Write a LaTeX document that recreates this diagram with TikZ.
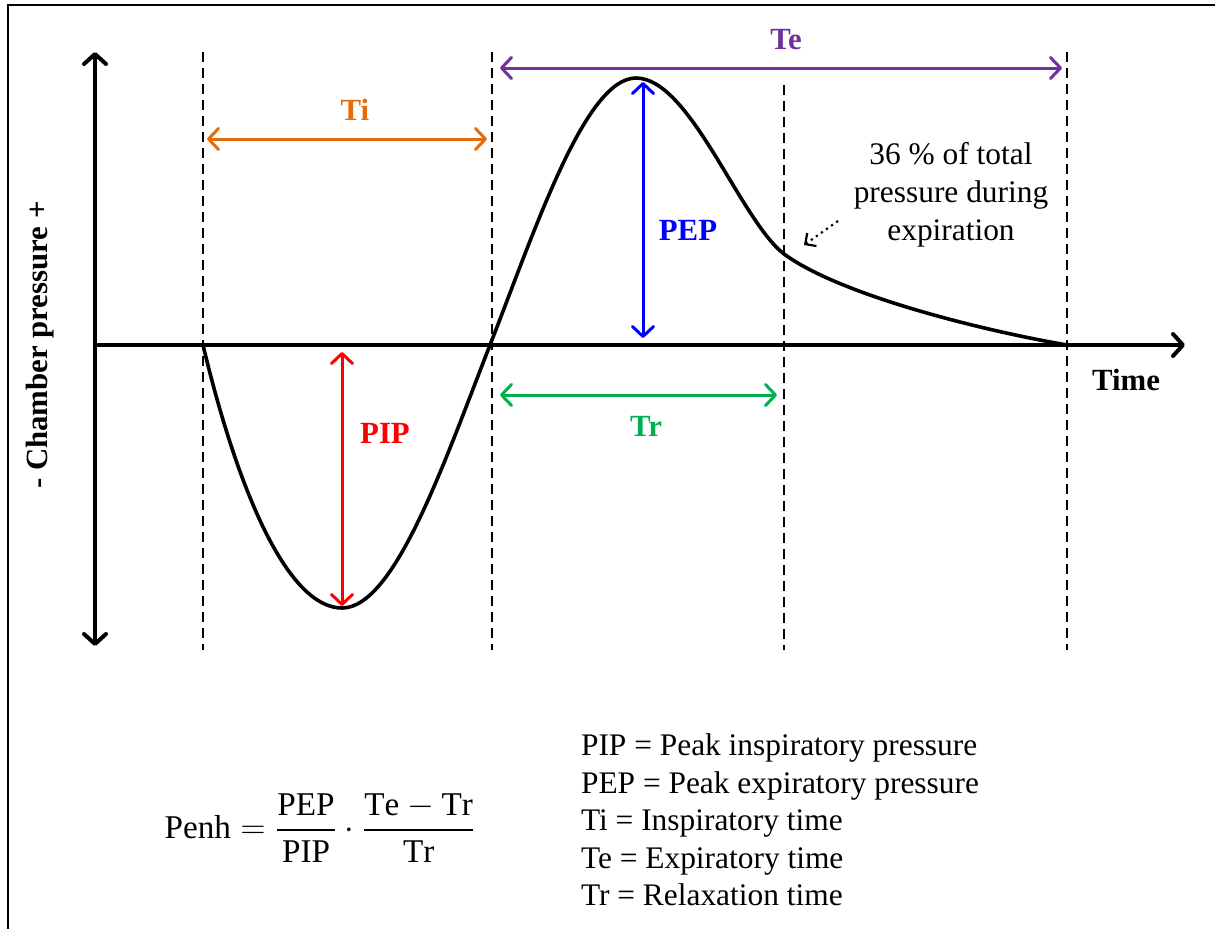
\documentclass[tikz,border=0pt]{standalone}
\usepackage{amsmath}
\usepackage{fontspec}
\setmainfont{Liberation Serif}
\usetikzlibrary{arrows.meta}

\definecolor{tiorange}{RGB}{228,108,10}
\definecolor{tepurple}{RGB}{112,48,160}
\definecolor{trgreen}{RGB}{0,176,80}

\begin{document}
\begin{tikzpicture}[
      x=0.5pt, y=-0.5pt,
      every node/.style={font=\fontsize{15.7}{19}\selectfont},
      bold/.style={font=\fontsize{15.4}{19}\selectfont\bfseries},
      bigbarb/.tip={Straight Barb[length=5pt, width=11pt, line cap=round, line join=round]},
      barb/.tip={Straight Barb[length=5pt, width=10.5pt, line cap=round, line join=round]},
      axis/.style={line width=2pt, line cap=round},
      span/.style={line width=1.5pt, barb-barb},
      guide/.style={line width=1pt, dash pattern=on 5pt off 3pt},
      wave/.style={line width=1.8pt, line join=round}
    ]
    \useasboundingbox (0,0) rectangle (1215,928);
    \clip (0,0) rectangle (1215,928);

    % frame, cut at right and bottom
    \draw[line width=1.2pt] (8,960) -- (8,5) -- (1240,5);

    % guides
    \foreach \x/\top in {203/52, 492/52, 784/85, 1067/52}{
      \draw[guide] (\x,\top) -- (\x,650);
    }

    % axes
    \coordinate (O) at (95,345);
    \coordinate (yup) at (95,52);
    \coordinate (ydn) at (95,646);
    \coordinate (xend) at (1185,345);
    \draw[axis, bigbarb-bigbarb] (ydn) -- (yup);
    \draw[axis, -bigbarb] (O) -- (xend);
    \node[bold, rotate=90] (ylab) at (40,345) {- Chamber pressure +};
    \node[bold] (time) at (1126,380) {Time};

    % pressure trace
    \draw[wave] (203,345) .. controls (240,500) and (290,608) .. (342,608)
      .. controls (395,608) and (445,460) .. (490,345)
      .. controls (535,230) and (585,78) .. (636,78)
      .. controls (690,78) and (740,220) .. (784,254)
      .. controls (840,295) and (980,330) .. (1067,345);

    % spans
    \coordinate (ti-l) at (207,139);
    \coordinate (ti-r) at (487,139);
    \draw[span, tiorange] (ti-l) -- (ti-r);
    \node[bold, text=tiorange] (ti) at (355,110) {Ti};

    \coordinate (te-l) at (500,68);
    \coordinate (te-r) at (1062,68);
    \draw[span, tepurple] (te-l) -- (te-r);
    \node[bold, text=tepurple] (te) at (786,40) {Te};

    \coordinate (tr-l) at (500,395);
    \coordinate (tr-r) at (777,395);
    \draw[span, trgreen] (tr-l) -- (tr-r);
    \node[bold, text=trgreen] (tr) at (646,426) {Tr};

    \coordinate (pip-t) at (342,352);
    \coordinate (pip-b) at (342,606);
    \draw[span, red] (pip-t) -- (pip-b);
    \node[bold, text=red] (pip) at (385,433) {PIP};

    \coordinate (pep-t) at (643,82);
    \coordinate (pep-b) at (643,338);
    \draw[span, blue] (pep-t) -- (pep-b);
    \node[bold, text=blue] (pep) at (688,230) {PEP};

    % note on expiration
    \node[align=center] (note) at (951,195) {36 \% of total\\pressure during\\expiration};
    \coordinate (note-tail) at (838,221);
    \coordinate (note-tip) at (804,245);
    \draw[line width=1.1pt, dotted, -{Straight Barb[length=4pt, width=8pt]}] (note-tail) -- (note-tip);

    % formula and legend
    \node[font=\fontsize{16.6}{20}\selectfont] (penh) at (320,828) {$\mathrm{Penh}=\dfrac{\mathrm{PEP}}{\mathrm{PIP}}\cdot\dfrac{\mathrm{Te}-\mathrm{Tr}}{\mathrm{Tr}}$};
    \node[anchor=west, align=left, font=\fontsize{15.7}{18.8}\selectfont] (legend) at (574,820) {%
      PIP = Peak inspiratory pressure\\
      PEP = Peak expiratory pressure\\
      Ti = Inspiratory time\\
      Te = Expiratory time\\
      Tr = Relaxation time};

\end{tikzpicture}
\end{document}
